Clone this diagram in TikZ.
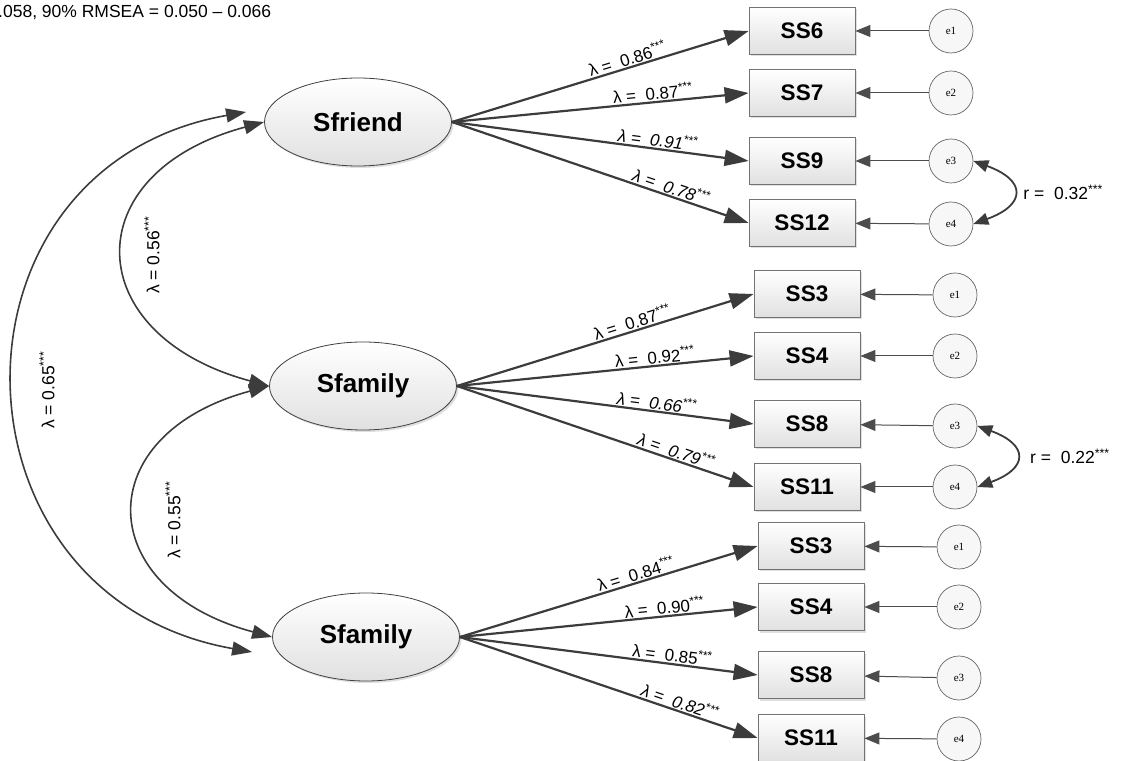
\documentclass[tikz,border=0pt]{standalone}
\usepackage{fontspec}
\setmainfont{Liberation Sans}
\newfontfamily\errfont{Liberation Serif}
\usetikzlibrary{arrows.meta,shapes.geometric,shadows,positioning}

\definecolor{lineGray}{HTML}{3C3C3C}

\tikzset{
    latent/.style={ellipse, draw=black!75, line width=0.8pt, top color=white, bottom color=black!12,
        minimum width=187pt, minimum height=88pt, inner sep=0pt,
        font=\fontsize{26}{30}\selectfont\bfseries,
        drop shadow={shadow xshift=2pt, shadow yshift=-2pt, fill=black!25}},
    item/.style={rectangle, draw=black!55, line width=0.8pt, top color=white, bottom color=black!12,
        minimum width=106pt, minimum height=47pt, inner sep=0pt,
        font=\fontsize{22.5}{25}\selectfont\bfseries,
        drop shadow={shadow xshift=2pt, shadow yshift=-2pt, fill=black!25}},
    resid/.style={circle, draw=black!60, line width=0.7pt, fill=black!3, minimum size=44pt, inner sep=0pt,
        font=\errfont\fontsize{11}{12}\selectfont},
    load/.style={-{Triangle[length=24pt,width=16pt]}, draw=lineGray, line width=2.2pt},
    errarr/.style={-{Triangle[length=15pt,width=12pt]}, draw=black!70, line width=1pt},
    cov/.style={{Triangle[length=15pt,width=12pt]}-{Triangle[length=15pt,width=12pt]}, draw=lineGray, line width=1.8pt},
    factcov/.style={{Triangle[length=20pt,width=14pt]}-{Triangle[length=20pt,width=14pt]}, draw=lineGray, line width=1.6pt},
    lbl/.style={font=\fontsize{17}{19}\selectfont, sloped, above, inner sep=1pt},
    lblit/.style={lbl, font=\fontsize{17}{19}\selectfont\itshape},
    note/.style={font=\fontsize{17.5}{20}\selectfont},
}

\begin{document}
\begin{tikzpicture}[x=1pt, y=1pt]
    \useasboundingbox (0,0) rectangle (1123,760);

    % Fit line
    \node[note, anchor=west, inner sep=0pt] (fit) at (-2,747) {.058, 90\% RMSEA = 0.050 -- 0.066};

    % Latent factors
    \node[latent] (sfriend) at (358,638) {Sfriend};
    \node[latent] (sfam) at (363,374) {Sfamily};
    \node[latent] (sfamb) at (366,123) {Sfamily};

    % Items, first block
    \node[item] (ss6) at (802,729) {SS6};
    \node[item] (ss7) at (802,667) {SS7};
    \node[item] (ss9) at (802,599) {SS9};
    \node[item] (ss12) at (802,537) {SS12};
    % Items, second block
    \node[item] (ss3a) at (807,466) {SS3};
    \node[item] (ss4a) at (807,404) {SS4};
    \node[item] (ss8a) at (807,336) {SS8};
    \node[item] (ss11a) at (807,273) {SS11};
    % Items, third block
    \node[item] (ss3b) at (811,214) {SS3};
    \node[item] (ss4b) at (811,153) {SS4};
    \node[item] (ss8b) at (811,85) {SS8};
    \node[item] (ss11b) at (811,22) {SS11};

    % Error terms
    \node[resid] (e1a) at (951,729) {e1};
    \node[resid] (e2a) at (951,667) {e2};
    \node[resid] (e3a) at (951,599) {e3};
    \node[resid] (e4a) at (951,536) {e4};
    \node[resid] (e1b) at (955,465) {e1};
    \node[resid] (e2b) at (955,404) {e2};
    \node[resid] (e3b) at (955,334) {e3};
    \node[resid] (e4b) at (955,273) {e4};
    \node[resid] (e1c) at (959,213) {e1};
    \node[resid] (e2c) at (959,153) {e2};
    \node[resid] (e3c) at (959,82) {e3};
    \node[resid] (e4c) at (959,21) {e4};

    % Loadings
    \draw[load] (sfriend.east) -- (ss6.west) node[lbl, pos=0.6] {λ =~ 0.86\textsuperscript{***}};
    \draw[load] (sfriend.east) -- (ss7.west) node[lbl, pos=0.68] {λ =~ 0.87\textsuperscript{***}};
    \draw[load] (sfriend.east) -- (ss9.west) node[lblit, pos=0.69] {λ =~ 0.91\textsuperscript{***}};
    \draw[load] (sfriend.east) -- (ss12.west) node[lblit, pos=0.73] {λ =~ 0.78\textsuperscript{***}};

    \draw[load] (sfam.east) -- (ss3a.west) node[lbl, pos=0.6] {λ =~ 0.87\textsuperscript{***}};
    \draw[load] (sfam.east) -- (ss4a.west) node[lbl, pos=0.67] {λ =~ 0.92\textsuperscript{***}};
    \draw[load] (sfam.east) -- (ss8a.west) node[lblit, pos=0.67] {λ =~ 0.66\textsuperscript{***}};
    \draw[load] (sfam.east) -- (ss11a.west) node[lblit, pos=0.73] {λ =~ 0.79\textsuperscript{***}};

    \draw[load] (sfamb.east) -- (ss3b.west) node[lbl, pos=0.6] {λ =~ 0.84\textsuperscript{***}};
    \draw[load] (sfamb.east) -- (ss4b.west) node[lbl, pos=0.69] {λ =~ 0.90\textsuperscript{***}};
    \draw[load] (sfamb.east) -- (ss8b.west) node[lbl, pos=0.71] {λ =~ 0.85\textsuperscript{***}};
    \draw[load] (sfamb.east) -- (ss11b.west) node[lblit, pos=0.73] {λ =~ 0.82\textsuperscript{***}};

    % Error paths
    \draw[errarr] (e1a) -- (ss6);
    \draw[errarr] (e2a) -- (ss7);
    \draw[errarr] (e3a) -- (ss9);
    \draw[errarr] (e4a) -- (ss12);
    \draw[errarr] (e1b) -- (ss3a);
    \draw[errarr] (e2b) -- (ss4a);
    \draw[errarr] (e3b) -- (ss8a);
    \draw[errarr] (e4b) -- (ss11a);
    \draw[errarr] (e1c) -- (ss3b);
    \draw[errarr] (e2c) -- (ss4b);
    \draw[errarr] (e3c) -- (ss8b);
    \draw[errarr] (e4c) -- (ss11b);

    % Error covariances
    \draw[cov] (e3a.east) to[out=-20, in=20, looseness=2.3] node[right=6pt, note] (r1) {r =~ 0.32\textsuperscript{***}} (e4a.east);
    \draw[cov] (e3b.east) to[out=-20, in=20, looseness=2.3] node[right=10pt, note] (r2) {r =~ 0.22\textsuperscript{***}} (e4b.east);

    % Factor covariances
    \coordinate (oatop) at ([xshift=-18pt, yshift=10pt]sfriend.west);
    \coordinate (oabot) at ([xshift=-20pt, yshift=-15pt]sfamb.west);
    \draw[factcov] (sfriend.west) to[out=195, in=165, looseness=1.9] (sfam.west);
    \draw[factcov] (sfam.west) to[out=195, in=165, looseness=1.9] (sfamb.west);
    \draw[factcov] (oatop) to[out=190, in=170, looseness=1.5] (oabot);
    \node[note, rotate=90] (c1) at (152,505) {λ = 0.56\textsuperscript{***}};
    \node[note, rotate=90] (c2) at (47,370) {λ = 0.65\textsuperscript{***}};
    \node[note, rotate=90] (c3) at (173,240) {λ = 0.55\textsuperscript{***}};
\end{tikzpicture}
\end{document}
